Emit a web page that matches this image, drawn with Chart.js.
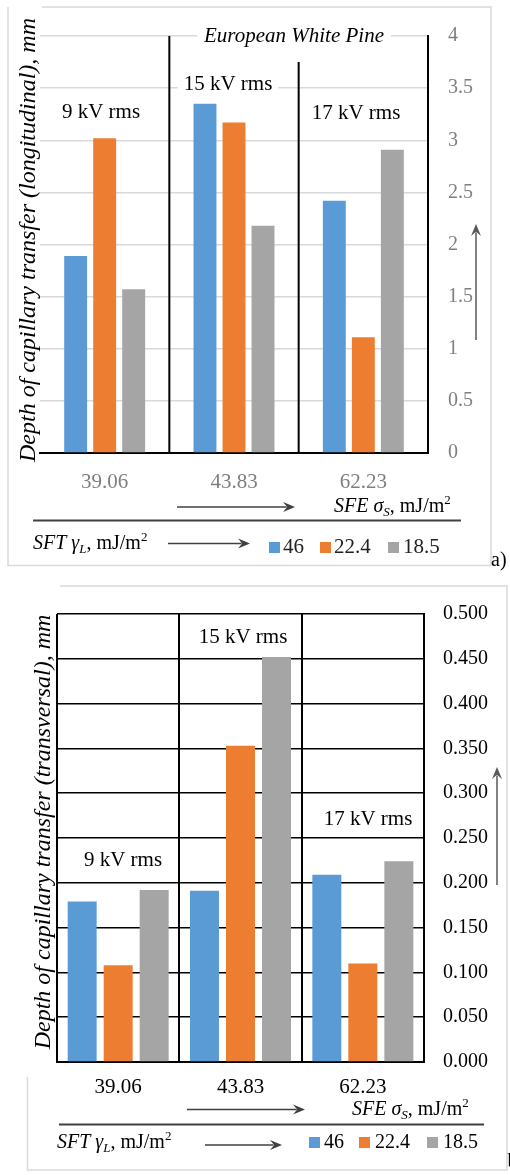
<!DOCTYPE html>
<html>
<head>
<meta charset="utf-8">
<script src="https://cdn.jsdelivr.net/npm/chart.js@4.4.0/dist/chart.umd.min.js"></script>
<style>
  html, body { margin: 0; padding: 0; background: #fff; }
  #wrap { position: relative; width: 510px; height: 1175px; overflow: hidden; }
  #cA { position: absolute; left: 0; top: 0; }
  #cB { position: absolute; left: 0; top: 575px; }
</style>
</head>
<body>
<div id="wrap">
  <canvas id="cA" width="510" height="575"></canvas>
  <canvas id="cB" width="510" height="600"></canvas>
</div>
<script>
// categories: surface free energy of the wood, mJ/m2
const SFE = ['39.06', '43.83', '62.23'];
// series: surface tension of the liquid, mJ/m2
const SFT = ['46', '22.4', '18.5'];
const COLORS = ['#5b9bd5', '#ed7d31', '#a5a5a5'];
const VOLT = ['9 kV rms', '15 kV rms', '17 kV rms'];

// a) longitudinal depth, mm
const LONG_46  = [1.89, 3.35, 2.42];
const LONG_224 = [3.02, 3.17, 1.11];
const LONG_185 = [1.57, 2.18, 2.91];
const LONG_MAX = 4, LONG_STEP = 0.5;

// b) transversal depth, mm
const TRANS_46  = [0.179, 0.191, 0.209];
const TRANS_224 = [0.108, 0.353, 0.110];
const TRANS_185 = [0.192, 0.452, 0.224];
const TRANS_MAX = 0.5, TRANS_STEP = 0.05;

const SERIF = '"Liberation Serif", "Times New Roman", Tinos';
Chart.defaults.font.family = SERIF;

function sets(vals, cp, bp) {
  return vals.map((v, i) => ({
    label: SFT[i], data: v, backgroundColor: COLORS[i],
    categoryPercentage: cp, barPercentage: bp, borderWidth: 0
  }));
}

function arrow(ctx, x1, y1, x2, y2, col, lw) {
  const a = Math.atan2(y2 - y1, x2 - x1), L = 12, W = 5;
  ctx.save();
  ctx.strokeStyle = col; ctx.fillStyle = col; ctx.lineWidth = lw;
  ctx.beginPath(); ctx.moveTo(x1, y1);
  ctx.lineTo(x2 - Math.cos(a) * L * 0.7, y2 - Math.sin(a) * L * 0.7); ctx.stroke();
  ctx.translate(x2, y2); ctx.rotate(a);
  ctx.beginPath(); ctx.moveTo(0, 0); ctx.lineTo(-L, -W); ctx.lineTo(-L * 0.65, 0); ctx.lineTo(-L, W);
  ctx.closePath(); ctx.fill();
  ctx.restore();
}

function line(ctx, x1, y1, x2, y2, col, lw) {
  ctx.save(); ctx.strokeStyle = col; ctx.lineWidth = lw;
  ctx.beginPath(); ctx.moveTo(x1, y1); ctx.lineTo(x2, y2); ctx.stroke();
  ctx.restore();
}

// parts: [text, kind]  kind: n | i | isub | sup
function rich(ctx, x, y, parts, size, col) {
  ctx.save(); ctx.fillStyle = col; ctx.textBaseline = 'alphabetic'; ctx.textAlign = 'left';
  let cx = x;
  parts.forEach(([t, k]) => {
    const small = k === 'isub' || k === 'sup';
    ctx.font = (k[0] === 'i' ? 'italic ' : '') + (small ? Math.round(size * 0.66) : size) + 'px ' + SERIF;
    const dy = k === 'isub' ? size * 0.22 : k === 'sup' ? -size * 0.38 : 0;
    ctx.fillText(t, cx, y + dy);
    cx += ctx.measureText(t).width;
  });
  ctx.restore();
}

function label(ctx, t, x, y, size, col, bg) {
  ctx.save();
  ctx.font = size + 'px ' + SERIF;
  ctx.textAlign = 'center'; ctx.textBaseline = 'middle';
  if (bg) {
    const w = ctx.measureText(t).width;
    ctx.fillStyle = '#fff'; ctx.fillRect(x - w / 2 - 6, y - size / 2, w + 12, size);
  }
  ctx.fillStyle = col; ctx.fillText(t, x, y);
  ctx.restore();
}

function vtitle(ctx, t, x, y, size) {
  ctx.save();
  ctx.translate(x, y); ctx.rotate(-Math.PI / 2);
  ctx.font = 'italic ' + size + 'px ' + SERIF;
  ctx.textAlign = 'center'; ctx.textBaseline = 'middle'; ctx.fillStyle = '#000';
  ctx.fillText(t, 0, 0);
  ctx.restore();
}

function legend(ctx, boxX, textX, yBox, box, base, size, col) {
  ctx.save();
  SFT.forEach((s, i) => {
    ctx.fillStyle = COLORS[i]; ctx.fillRect(boxX[i], yBox, box, box);
    ctx.fillStyle = col; ctx.font = size + 'px ' + SERIF; ctx.textBaseline = 'alphabetic';
    ctx.fillText(s, textX[i], base);
  });
  ctx.restore();
}

const sfeText = [['SFE σ', 'i'], ['S', 'isub'], [', mJ/m', 'n'], ['2', 'sup']];
const sftText = [['SFT γ', 'i'], ['L', 'isub'], [', mJ/m', 'n'], ['2', 'sup']];

// ---------- a) longitudinal ----------
const decorA = {
  id: 'decorA',
  afterDraw(c) {
    const ctx = c.ctx, x = c.scales.x, ca = c.chartArea;
    const sep1 = (x.getPixelForValue(0) + x.getPixelForValue(1)) / 2;
    const sep2 = (x.getPixelForValue(1) + x.getPixelForValue(2)) / 2;
    // outer frame
    ctx.save(); ctx.strokeStyle = '#d9d9d9'; ctx.lineWidth = 1.5;
    ctx.beginPath();
    ctx.moveTo(42, 7); ctx.lineTo(491, 7); ctx.lineTo(491, 565.5); ctx.lineTo(8, 565.5); ctx.lineTo(8, 7);
    ctx.stroke(); ctx.restore();
    line(ctx, sep1, ca.top, sep1, ca.bottom, '#000', 2);
    line(ctx, sep2, 62, sep2, ca.bottom, '#000', 2);
    // species title over the top gridline
    ctx.save();
    ctx.font = 'italic 21px ' + SERIF;
    const tw = ctx.measureText('European White Pine').width;
    ctx.fillStyle = '#fff'; ctx.fillRect(294 - tw / 2 - 7, ca.top - 10, tw + 14, 20);
    ctx.fillStyle = '#000'; ctx.textAlign = 'center'; ctx.textBaseline = 'middle';
    ctx.fillText('European White Pine', 294, ca.top);
    ctx.restore();
    label(ctx, VOLT[0], 101, 112, 21, '#000');
    label(ctx, VOLT[1], 228, 84, 21, '#000', true);
    label(ctx, VOLT[2], 356, 113, 21, '#000');
    vtitle(ctx, 'Depth of capillary transfer (longitudinal), mm', 29, 240, 24);
    arrow(ctx, 476, 340, 476, 224, '#595959', 1.5);
    arrow(ctx, 177, 507, 295, 507, '#404040', 1.5);
    rich(ctx, 334, 512, sfeText, 20, '#000');
    line(ctx, 33, 520.5, 461, 520.5, '#404040', 2);
    rich(ctx, 33, 549, sftText, 20, '#000');
    arrow(ctx, 168, 543.5, 250, 543.5, '#404040', 1.5);
    legend(ctx, [269, 320, 388], [283, 334, 403], 542, 11, 553, 21, '#222');
    ctx.save(); ctx.font = '20px ' + SERIF; ctx.fillStyle = '#000';
    ctx.fillText('a)', 491, 566); ctx.restore();
  }
};

new Chart(document.getElementById('cA'), {
  type: 'bar',
  data: { labels: SFE, datasets: sets([LONG_46, LONG_224, LONG_185], 0.673, 0.79) },
  options: {
    responsive: false, animation: false,
    layout: { padding: { top: 36, left: 40, right: 0, bottom: 62 } },
    plugins: { legend: { display: false }, tooltip: { enabled: false } },
    scales: {
      x: {
        offset: true,
        grid: { display: false, drawTicks: false },
        border: { display: true, color: '#000', width: 2 },
        ticks: { color: '#7f7f7f', font: { family: SERIF, size: 21 }, padding: 17 },
        afterFit: s => { s.height = 60; }
      },
      y: {
        position: 'right', min: 0, max: LONG_MAX,
        grid: { color: '#d9d9d9', lineWidth: 1.5, drawTicks: false },
        border: { display: true, color: '#000', width: 2 },
        ticks: {
          stepSize: LONG_STEP, color: '#7f7f7f', font: { family: SERIF, size: 20 }, padding: 20,
          callback: v => String(+Number(v).toFixed(1))
        },
        afterFit: s => { s.width = 82; }
      }
    }
  },
  plugins: [decorA]
});

// ---------- b) transversal ----------
const decorB = {
  id: 'decorB',
  afterDraw(c) {
    const ctx = c.ctx, o = 575;
    ctx.save(); ctx.strokeStyle = '#d9d9d9'; ctx.lineWidth = 1.5;
    ctx.beginPath();
    ctx.moveTo(60, 586 - o); ctx.lineTo(507, 586 - o); ctx.lineTo(507, 1170 - o);
    ctx.lineTo(27.5, 1170 - o); ctx.lineTo(27.5, 1077 - o);
    ctx.stroke(); ctx.restore();
    label(ctx, VOLT[1], 243, 637 - o, 21, '#000');
    label(ctx, VOLT[2], 368, 819 - o, 21, '#000');
    label(ctx, VOLT[0], 123, 860 - o, 21, '#000');
    vtitle(ctx, 'Depth of capillary transfer (transversal), mm', 44, 832 - o, 24);
    arrow(ctx, 497, 885 - o, 497, 767 - o, '#595959', 1.5);
    arrow(ctx, 187, 1109.5 - o, 305, 1109.5 - o, '#404040', 1.5);
    rich(ctx, 352, 1115 - o, sfeText, 20, '#000');
    line(ctx, 59, 1124.5 - o, 484, 1124.5 - o, '#404040', 2);
    rich(ctx, 57, 1148 - o, sftText, 20, '#000');
    arrow(ctx, 205, 1145 - o, 282, 1145 - o, '#404040', 1.5);
    legend(ctx, [309, 359, 427], [324, 375, 443], 1137 - o, 11, 1148 - o, 20, '#000');
    ctx.save(); ctx.font = '20px ' + SERIF; ctx.fillStyle = '#000';
    ctx.fillText('b)', 507.5, 1167 - o); ctx.restore();
  }
};

new Chart(document.getElementById('cB'), {
  type: 'bar',
  data: { labels: SFE, datasets: sets([TRANS_46, TRANS_224, TRANS_185], 0.883, 0.805) },
  options: {
    responsive: false, animation: false,
    layout: { padding: { top: 39, left: 57, right: 0, bottom: 53 } },
    plugins: { legend: { display: false }, tooltip: { enabled: false } },
    scales: {
      x: {
        offset: true,
        grid: { display: true, offset: true, color: '#000', lineWidth: 2, drawTicks: false },
        border: { display: true, color: '#000', width: 2 },
        ticks: { color: '#000', font: { family: SERIF, size: 21 }, padding: 13 },
        afterFit: s => { s.height = 60; }
      },
      y: {
        position: 'right', min: 0, max: TRANS_MAX,
        grid: { color: '#000', lineWidth: 1.6, drawTicks: false },
        border: { display: true, color: '#000', width: 2 },
        ticks: {
          stepSize: TRANS_STEP, color: '#000', font: { family: SERIF, size: 20 }, padding: 19,
          callback: v => Number(v).toFixed(3)
        },
        afterFit: s => { s.width = 86; }
      }
    }
  },
  plugins: [decorB]
});
</script>
</body>
</html>
